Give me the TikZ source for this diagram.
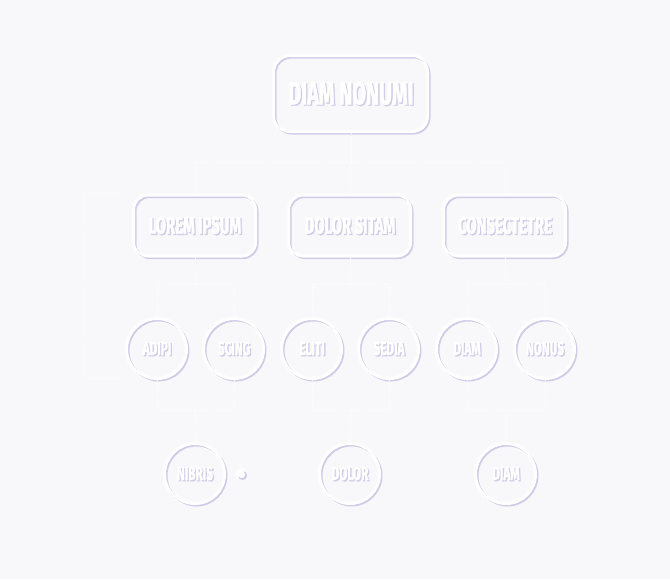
\documentclass[tikz,border=0pt]{standalone}
\usepackage{fontspec}
\newfontfamily\condfont[FakeStretch=0.62, FakeBold=1.2]{Fira Sans}
\definecolor{fondo}{HTML}{F8F8FA}
\definecolor{lila}{HTML}{CFCCE8}
\newcommand{\relieve}[1]{\rlap{\kern1.3pt\raisebox{-1.3pt}{\textcolor{lila}{#1}}}\textcolor{white}{#1}}
\tikzset{
  sombra/.style={preaction={draw=white, line width=5pt, opacity=0.7},
    preaction={draw=lila, line width=2pt, transform canvas={shift={(1.5pt,-1.5pt)}}}},
  caja/.style={sombra, draw=white, line width=2pt, rounded corners=14pt,
    minimum width=122pt, minimum height=61pt, inner sep=0pt,
    font=\condfont\bfseries\fontsize{24}{24}\selectfont},
  bola/.style={sombra, circle, draw=white, line width=2pt, minimum size=60pt, inner sep=0pt,
    font=\condfont\bfseries\fontsize{19}{19}\selectfont},
  enlace/.style={draw=white, line width=0.8pt, dotted}
}
\begin{document}
\begin{tikzpicture}[x=1pt, y=-1pt]
    % Fondo
    \fill[fondo] (0,0) rectangle (670,579);
    \useasboundingbox (0,0) rectangle (670,579);

    % Nivel 1
    \node[caja, minimum width=154pt, minimum height=76pt, rounded corners=16pt,
      font=\condfont\bfseries\fontsize{32}{32}\selectfont] (jefe) at (351,94) {\relieve{DIAM NONUMI}};

    % Nivel 2
    \node[caja] (lorem) at (195,226) {\relieve{LOREM IPSUM}};
    \node[caja] (dolor) at (350,226) {\relieve{DOLOR SITAM}};
    \node[caja] (consec) at (505,226) {\relieve{CONSECTETRE}};

    % Nivel 3
    \node[bola] (adipi) at (157,349) {\relieve{ADIPI}};
    \node[bola] (scing) at (234,349) {\relieve{SCING}};
    \node[bola] (eliti) at (312,349) {\relieve{ELITI}};
    \node[bola] (sedia) at (389,349) {\relieve{SEDIA}};
    \node[bola] (diam) at (467,349) {\relieve{DIAM}};
    \node[bola] (nonus) at (545,349) {\relieve{NONUS}};

    % Nivel 4
    \node[bola] (nibris) at (195,474) {\relieve{NIBRIS}};
    \node[bola] (dolorb) at (350,474) {\relieve{DOLOR}};
    \node[bola] (diamb) at (506,474) {\relieve{DIAM}};
    \node[sombra, circle, fill=white, draw=white, minimum size=7pt, inner sep=0pt] (punto) at (241,474) {};

    % Enlaces nivel 1 - nivel 2
    \coordinate (bus) at (351,162);
    \draw[enlace] (jefe.south) -- (bus);
    \foreach \n in {lorem,dolor,consec}
        \draw[enlace] (bus) -| (\n.north);

    % Enlaces nivel 2 - nivel 3
    \foreach \p/\a/\b in {lorem/adipi/scing, dolor/eliti/sedia, consec/diam/nonus} {
        \draw[enlace] (\p.south) -- (\p.south |- 0,284) -| (\a.north);
        \draw[enlace] (\p.south |- 0,284) -| (\b.north);
    }

    % Enlaces nivel 3 - nivel 4
    \foreach \a/\b/\h in {adipi/scing/nibris, eliti/sedia/dolorb, diam/nonus/diamb} {
        \draw[enlace] (\a.south) |- (\h.north |- 0,410) -- (\h.north);
        \draw[enlace] (\b.south) |- (\h.north |- 0,410);
    }

    % Llave izquierda
    \draw[enlace] (120,193) -- (83,193) -- (83,378) -- (122,378);
\end{tikzpicture}
\end{document}
